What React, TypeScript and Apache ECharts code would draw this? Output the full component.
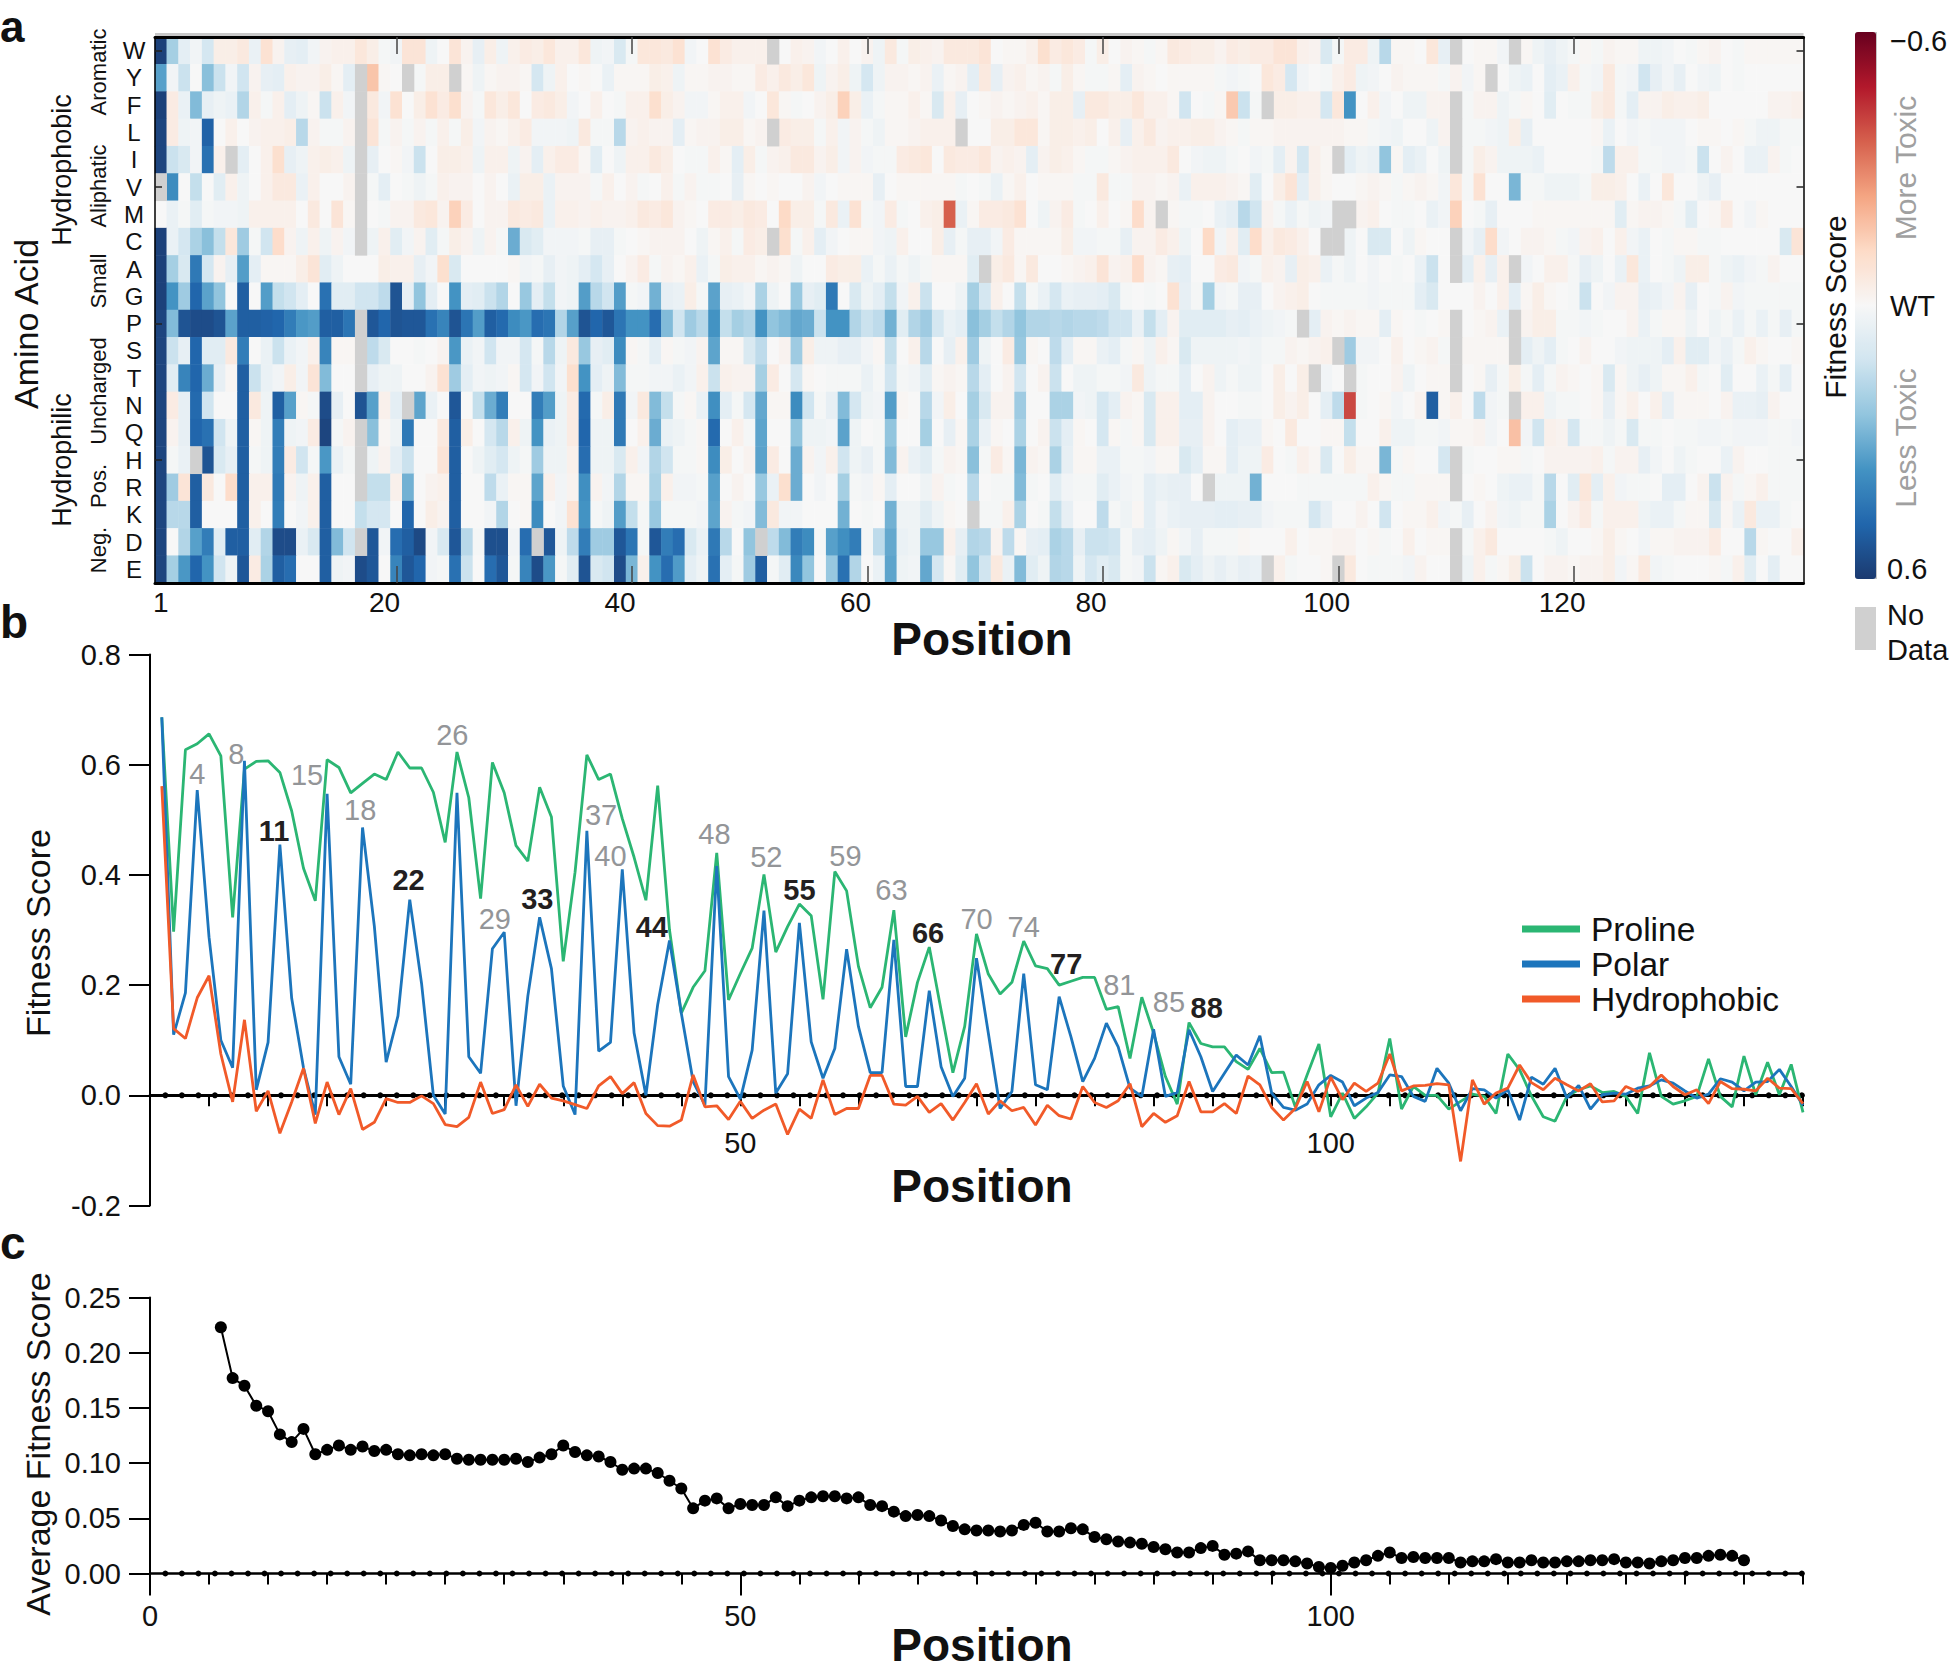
import React, { useEffect, useRef } from "react";
import * as echarts from "echarts";

const _ = null;
const FONT = "'Liberation Sans', Arial, sans-serif";

const aminoAcids = ["W","Y","F","L","I","V","M","C","A","G","P","S","T","N","Q","H","R","K","D","E"];
const heatTickLabels = [1, 20, 40, 60, 80, 100, 120];

// Fitness score, in hundredths, per position (1-140). null = no data.
const rowW = [58,17,6,2,9,-4,-4,-6,4,-9, -2,5,6,2,-2,-3,-3,-7,-4,1, 2,-8,-8,3,0,-8,-2,5,-4,3, -3,-5,-4,-7,-3,-3,-7,3,2,8, 1,-7,-7,-6,-9,2,
  0,-9,-5,-3,-3,-3,_,0,-3,-2, 2,0,-3,0,-2,3,-6,1,-4,-3, -2,-6,-6,-6,-8,0,-1,-1,-3,-10, -5,-7,-5,1,-4,0,-2,-1,1,-1, -6,-5,-4,-4,-2,-5,-4,-5,-5,-8, -8,-3,-2,8,1,-5,-5,3,14,-1,
  -1,0,-7,5,_,0,-1,-1,2,_, -1,3,5,3,1,-1,1,-2,-1,-1, 3,3,2,0,1,-1,-2,0,1,-1, -1,-1,-1,-1];
const rowY = [33,2,11,0,21,11,2,10,-2,5, 6,-3,-2,-2,-4,-1,6,_,-17,-1, 0,_,1,-4,-4,_,-1,3,-1,-2, -2,-1,9,3,-3,0,-1,0,4,-1, -1,-1,-4,-3,3,-1,
  -1,-2,-2,-1,-1,-5,-3,-6,-4,-7, 3,-2,-4,3,9,3,-2,-2,-1,-2, 4,-1,-2,6,-6,5,-2,-3,-1,-2, 1,-4,-1,1,1,-1,6,-2,-1,0, -1,-1,-1,-1,1,2,1,0,-7,-5, 9,2,0,1,-3,-5,3,2,0,-2,
  -1,-1,-1,1,-2,2,-1,_,0,3, 4,0,6,4,-3,1,2,-6,1,2, 10,5,2,5,0,2,3,0,1,0, 0,0,0,0];
const rowF = [58,-5,4,22,5,3,4,15,-3,1, -3,6,3,-1,11,-3,2,_,-6,2, -9,0,-4,-9,-5,-10,-2,1,-7,-4, -7,0,-5,-6,-4,2,0,-3,0,1, -3,-3,-10,-4,-2,2,
  2,-1,-3,-3,2,0,-7,-1,1,0, -2,-4,-14,-4,4,1,-1,-1,-3,-1, 8,-3,5,0,-1,-2,-1,-2,-3,-1, -4,-4,5,-6,-6,-4,-4,-7,-3,-3, -1,10,0,1,-1,-16,11,1,_,-4, -4,-3,-3,9,-7,30,0,-3,2,0,
  3,3,-2,-2,_,1,-2,-2,3,1, -1,0,7,0,1,1,-4,-6,1,6, -2,-2,-4,-3,-3,-4,0,0,0,0, 0,-2,-2,-3];
const rowL = [57,-5,3,2,49,0,-3,0,-2,-3, -3,-4,14,-2,1,1,-2,_,-8,1, -2,1,-2,1,-3,1,-4,2,-2,-1, -3,-5,2,2,2,3,-6,1,1,14, -2,-3,-2,-2,6,-1,
  -2,-2,-4,-4,-1,-2,_,-5,-4,-4, 1,-3,2,-2,1,3,-1,-1,-2,-3, -3,-3,_,0,0,-4,-4,-7,-7,-1, -4,-4,-3,-4,0,-3,5,-3,-6,-2, -3,-3,-4,-4,-2,-1,1,-1,-1,-2, -2,-2,-2,-2,-2,-1,-1,1,2,3,
  0,0,3,-2,_,1,1,2,3,-4, 5,0,0,0,0,0,-1,4,0,2, 1,2,2,2,0,-1,-1,0,-1,1, 3,3,1,1];
const rowI = [57,11,8,2,45,-3,_,6,0,-3, -10,5,3,-3,-4,-3,3,_,5,0, -1,2,11,0,-4,-4,-3,3,-3,-3, 3,-2,6,-3,-5,-5,-1,7,0,3, -3,-3,-6,-4,0,1,
  1,-3,-1,6,-4,1,-2,-3,-6,-6, -2,-4,2,-2,2,1,1,-5,-6,-7, 0,-6,-5,-5,-7,-2,-3,-2,6,-2, -4,-3,-1,1,1,-1,-2,-3,-3,-3, -6,0,2,3,3,1,0,2,1,6, -2,9,-3,-1,_,6,3,4,20,-1,
  6,4,0,3,_,1,-4,-2,3,3, 3,4,0,0,0,0,1,13,-3,-3, 1,1,2,2,1,11,0,-2,0,4, 4,-2,1,0];
const rowV = [_,38,0,12,0,7,-3,3,0,-3, -6,-6,4,-3,0,0,-2,_,1,6, 0,1,3,1,-3,-2,-2,0,-2,0, 4,-4,-4,4,-2,-2,-2,1,-3,0, -2,1,0,-3,1,-2,
  1,1,0,5,-1,0,-1,0,0,-2, 2,0,-1,-1,-1,5,0,-1,-1,-1, -1,-1,1,0,1,4,-1,-3,0,-1, -1,-1,1,1,-6,1,1,-2,-2,-1, -2,4,-3,-3,-3,-2,-1,7,0,-4, -8,6,-3,-1,0,0,-1,-2,-1,1,
  -1,-2,-1,2,-7,1,-9,0,0,23, 1,1,3,3,3,1,-4,-4,-3,0, 4,0,-7,0,0,3,5,0,0,0, 0,0,0,0];
const rowM = [0,4,1,7,1,2,2,3,-3,-3, -3,-3,0,-6,0,-8,-1,_,0,1, -2,-2,-6,-7,-2,-14,-5,0,-2,-2, -6,-5,-6,4,-3,-3,-2,-3,-2,-2, -3,-6,-5,-7,-2,-1,
  0,-5,-5,-4,-6,-5,0,-12,-4,-4, 1,-6,4,-9,1,2,-5,1,0,-3, -4,-36,4,-1,-5,-5,-6,-9,0,3, -2,-5,1,0,-3,0,-1,-11,-2,_, -1,1,1,0,4,6,14,10,-2,1, 4,1,3,2,_,_,-2,-3,0,1,
  1,0,4,2,-14,0,1,5,0,0, 0,-1,-1,-1,-1,-1,-1,-1,7,-1, -2,-2,-1,1,7,0,-1,-5,0,2, -1,0,0,0];
const rowC = [58,4,9,16,21,12,-7,18,1,10, -11,-2,3,-3,3,-2,2,_,3,-3, 7,2,-2,7,1,-4,-2,3,-2,1, 25,8,7,2,2,2,1,5,5,1, 0,-1,-2,-2,-2,0,
  3,-1,-3,1,-5,-4,_,-10,1,-3, 6,2,0,-1,-1,2,3,-3,0,0, -4,5,1,5,5,2,-5,-1,-1,-1, -1,-4,2,2,1,1,5,-2,-2,-5, -3,3,0,-12,2,-3,7,-11,-3,-6, -5,-3,0,_,_,3,0,8,8,0,
  3,-1,0,0,_,2,5,-11,2,0, -2,-2,-1,1,2,-2,-3,0,-3,2, 4,0,1,-1,-1,1,1,0,0,0, 0,0,8,-8];
const rowA = [58,17,8,43,9,-2,5,28,6,-1, -1,-1,-4,-8,7,3,0,0,0,-4, -3,-3,5,2,-10,8,0,0,0,0, -1,2,1,5,2,3,6,9,5,0, -2,-5,1,-2,-1,-3,
  4,1,-4,-3,-3,-1,-2,-1,3,0, 0,-5,-4,-4,4,1,4,1,3,1, -1,-1,-1,7,_,-4,-6,-1,-6,0, 0,-1,-2,-3,-8,-2,-3,-11,-2,-1, 5,6,0,0,-5,-6,2,1,-3,-2, 5,-4,-3,4,1,3,0,2,0,1,
  0,4,11,0,_,6,-3,5,-3,_, 2,0,-3,-3,1,5,3,0,4,-7, 4,0,1,3,-4,-4,1,3,4,2, 1,-2,0,0];
const rowG = [58,36,18,48,27,20,0,50,0,28, 12,10,6,0,45,7,7,10,10,13, 53,5,20,6,0,36,6,7,11,15, 0,19,6,12,2,3,28,14,10,28, 1,2,24,5,4,-4,
  1,27,5,4,2,16,3,0,19,5, 7,43,0,8,3,6,12,2,-3,11, 0,0,3,17,9,-3,0,12,1,4, 9,4,5,5,6,8,1,0,1,0, -9,5,1,17,2,1,5,5,0,-2, -3,-4,0,1,1,1,1,2,1,1,
  1,6,8,0,0,0,-2,0,-3,6, -1,-4,-1,0,1,11,0,2,-2,-2, 5,4,2,-2,5,0,1,-2,2,1, 1,1,1,1];
const rowP = [57,22,53,55,55,53,27,50,50,49, 48,42,35,28,50,50,44,_,52,48, 53,52,52,45,40,53,44,28,50,47, 38,35,46,44,15,33,53,48,52,44, 36,30,46,22,10,18,
  14,36,12,17,15,30,20,22,26,25, 11,36,30,15,11,13,24,7,15,18, 9,4,6,21,17,12,15,20,15,15, 14,15,14,14,13,10,10,4,12,6, -2,7,7,7,7,5,6,4,3,2, 1,_,6,-2,-1,-2,-1,-1,6,-1,
  0,1,0,-1,_,0,-1,-2,4,_, -2,-4,-4,1,1,2,1,0,0,-2, 4,1,-1,-1,3,0,3,1,4,1, 4,1,5,1];
const rowS = [57,11,5,48,7,7,-6,42,0,4, 11,4,2,-3,40,-1,-1,_,13,8, 0,0,1,0,-2,35,4,2,10,2, 2,9,1,14,3,-6,19,5,7,38, -1,1,6,-1,1,2,
  -2,32,-1,-1,8,13,0,-2,18,-4, 3,3,5,5,2,-1,12,0,-3,14, 0,5,-3,18,3,0,-5,19,-1,0, 13,6,-1,-1,4,6,1,-1,3,-3, -1,8,3,3,3,3,2,3,1,1, -2,-1,-2,-3,_,18,2,2,0,-3,
  0,-1,-2,1,_,-1,-1,-1,-1,_, 6,3,6,1,0,-2,0,0,2,3, 3,3,6,-3,7,7,2,4,1,-3, -1,0,0,-1];
const rowT = [57,7,40,48,25,5,-1,50,11,4, 2,-4,2,-8,22,0,0,_,5,3, 3,0,0,-2,-9,18,6,2,3,2, -1,9,2,10,2,-10,30,6,3,22, 1,1,2,2,4,2,
  -3,11,-3,-2,-2,17,-5,0,9,-1, 0,1,1,1,4,1,10,1,2,7, -1,-2,-1,14,6,0,-2,10,0,-2, 11,0,3,3,1,1,2,-6,3,1, 1,6,0,-2,3,1,3,3,0,-4, 0,-4,_,2,0,_,1,0,0,-2,
  3,0,-1,-1,_,0,-1,5,1,-4, 1,6,1,-2,-1,0,-1,8,-1,3, 5,3,-1,-1,-3,1,0,7,0,0, 4,1,6,0];
const rowN = [57,-5,5,47,10,0,0,50,-6,3, 50,33,-1,1,55,5,0,53,33,-3, 6,_,32,4,0,52,0,12,25,42, 0,0,42,28,3,-5,47,1,-4,43, 2,-6,22,12,1,-1,
  4,37,6,1,9,26,-1,-1,38,10, 1,5,22,9,3,2,28,-1,0,14, 2,-4,0,17,8,-2,-2,18,0,0, 16,16,2,3,9,6,-2,-1,8,-3, -3,6,6,-2,0,0,1,1,0,-4, -2,-4,0,6,13,-40,1,0,-1,2,
  0,-2,50,-1,-3,0,13,2,1,_, -3,-3,3,1,1,0,-1,5,-1,-3, 0,-3,5,-1,-1,-1,0,-2,4,4, 5,-2,0,0];
const rowQ = [57,-2,5,48,45,10,3,50,-1,3, 42,3,2,-5,57,1,-2,_,21,-1, 3,43,0,0,-6,50,-4,0,9,14, -3,3,30,4,3,-5,48,3,3,43, 0,-3,25,4,3,1,
  -1,47,0,-3,1,32,0,0,20,3, 3,2,27,3,0,1,20,0,0,17, 0,5,-1,16,4,-1,0,16,0,-2, 11,6,-1,0,9,-1,1,-1,8,-3, -3,5,5,-2,0,6,4,4,-1,0, -6,0,0,-1,-1,12,0,0,-3,3,
  3,1,1,2,-1,-1,-2,2,0,-18, 2,10,-3,-2,9,1,1,3,1,8, 1,1,0,1,1,2,2,1,2,2, 2,1,1,2];
const rowH = [57,1,4,_,53,8,5,50,1,3, 42,-5,10,1,35,4,1,_,3,-2, 6,11,0,0,-8,50,0,3,7,9, 3,1,18,3,3,-3,46,3,3,8, -3,2,15,10,1,1,
  -1,38,-4,0,-2,27,-5,0,25,-2, 2,-3,10,3,5,1,22,-2,4,7, 1,-2,-1,21,1,-5,-1,23,-2,-1, 16,5,-1,-1,4,4,1,1,2,-1, -1,8,6,-1,-1,6,3,3,-5,0, 1,-3,-1,8,0,-4,-1,-1,23,1,
  -1,0,0,9,_,1,0,0,-1,-1, 1,0,-2,-2,-2,-2,-3,1,-2,-2, 5,2,0,3,1,0,0,4,-2,0, 0,1,1,1];
const rowR = [57,18,-8,50,-6,0,-11,50,-3,-3, 43,-2,3,-3,50,0,0,_,12,12, -3,24,0,-2,-3,50,0,0,13,4, -1,-1,32,-3,2,-2,37,-2,2,15, -1,-1,16,-3,2,2,
  1,33,0,-2,0,19,4,-10,25,0, 2,0,17,1,2,-1,6,0,0,3, -2,1,0,14,0,1,1,22,1,0, 7,2,1,1,7,4,2,1,6,4, 5,5,0,_,3,3,3,24,0,0, 0,1,1,1,1,1,1,-3,-1,1,
  1,-1,-1,-1,_,0,-1,0,3,4, 4,1,14,0,7,-7,6,-3,2,1, 1,0,6,6,0,-2,11,-2,1,-1, -3,1,1,1];
const rowK = [57,14,14,50,0,0,0,50,-3,0, 42,0,2,-3,50,0,0,12,9,9, 0,48,0,-4,-2,50,0,0,2,15, 0,-1,38,0,2,-9,30,1,3,28, 12,1,19,1,1,1,
  2,32,-2,1,2,22,-6,2,2,0, 0,0,24,0,1,0,24,3,3,7, 3,-1,0,_,1,1,-3,16,0,1, 12,5,0,0,13,1,3,-1,6,2, 4,5,5,5,6,6,5,5,2,1, 1,1,9,5,0,0,-2,0,10,0,
  -1,-1,-3,2,1,5,0,-2,2,3, 1,1,16,0,-2,-5,1,-3,-3,-3, 3,4,4,1,-1,-1,8,-1,4,-6, 4,4,1,0];
const rowD = [57,0,15,33,42,7,50,50,7,15, 55,55,4,8,50,22,10,_,52,2, 46,50,56,2,8,52,14,1,54,54, 2,46,_,52,3,13,42,18,18,52, 44,1,52,42,46,8,
  4,43,14,0,20,_,13,22,42,38, 1,33,37,42,1,13,31,4,3,19, 19,-3,5,15,14,-2,13,-1,5,6, 16,14,5,11,11,10,1,5,6,3, -1,2,5,1,1,1,-1,0,0,0, -3,0,-1,-1,-2,-2,0,-1,1,0,
  -3,0,-1,-1,_,1,-3,-6,0,0, 0,0,1,3,0,0,-1,-4,-1,0, 2,-1,-1,-2,-2,-2,-5,0,0,14, -1,0,0,-3];
const rowE = [57,17,35,48,36,10,3,52,-5,16, 50,46,0,0,50,3,2,55,52,0, 40,52,48,2,1,45,11,0,46,52, 1,40,55,35,1,7,53,8,10,55, 23,-3,30,46,34,6,
  3,45,6,1,18,50,1,7,39,20, 0,19,45,15,0,4,32,3,2,26, 9,-1,7,20,10,-6,4,22,7,3, 15,14,3,9,7,8,1,2,11,-1, -3,8,6,3,5,3,5,4,_,-3, 1,0,0,-1,_,-6,0,1,1,1,
  2,-2,0,0,_,3,-3,1,-1,-4, 11,0,-2,-2,-1,-2,-2,-4,2,-1, -6,2,1,0,0,0,-1,1,-3,7, 0,6,0,0];
const heatRows = [rowW,rowY,rowF,rowL,rowI,rowV,rowM,rowC,rowA,rowG,rowP,rowS,rowT,rowN,rowQ,rowH,rowR,rowK,rowD,rowE];

// Panel b: scores for positions 1-140
const prolineScores = [.686,.297,.627,.638,.656,.616,.323,.592,.606,.607,
  .586,.516,.412,.353,.609,.595,.549,.566,.583,.573,
  .623,.594,.594,.55,.459,.623,.54,.357,.604,.549,
  .453,.425,.559,.505,.243,.405,.618,.573,.583,.502,
  .432,.354,.562,.30,.149,.196,.226,.44,.173,.221,
  .267,.401,.26,.306,.347,.326,.174,.406,.371,.234,
  .159,.196,.336,.106,.205,.269,.155,.041,.125,.293,
  .22,.184,.205,.28,.235,.23,.2,.207,.214,.214,
  .156,.161,.067,.178,.113,.034,-.016,.132,.094,.088,
  .088,.061,.047,.085,.041,.042,-.021,.037,.093,-.039,
  .004,-.042,-.021,.004,.103,-.025,.016,0,0,-.025,
  -.011,.002,-.002,-.033,.075,.046,-.001,-.039,-.047,-.002,
  .01,.017,.005,.007,-.002,-.033,.077,-.002,-.016,-.01,
  -.002,.066,-.002,-.021,.071,.001,.06,.001,.056,-.031];
const polarScores = [.686,.11,.186,.554,.287,.10,.05,.607,.01,.096,
  .455,.176,.05,-.035,.547,.07,.02,.486,.307,.06,
  .144,.355,.203,0,-.034,.549,.07,.04,.266,.296,
  -.019,.18,.323,.23,.017,-.035,.48,.08,.096,.41,
  .113,0,.165,.281,.149,.025,-.018,.416,.034,-.007,
  .082,.335,.004,.039,.313,.097,.031,.085,.265,.125,
  .041,.041,.282,.016,.016,.19,.052,-.002,.031,.249,
  .113,-.024,.007,.221,.019,.01,.179,.106,.025,.067,
  .131,.088,.013,-.002,.12,-.002,.005,.119,.07,.007,
  .04,.073,.055,.108,.004,-.022,-.027,-.016,.019,.036,
  .024,-.019,-.005,.005,.037,.034,-.002,-.011,.049,.022,
  -.028,.012,.01,-.005,.01,-.045,.033,.02,.049,-.005,
  .018,-.025,.001,.004,.002,.013,.017,.028,.022,.008,
  -.005,.002,.03,.024,.008,.024,.025,.047,.016,-.018];
const hydrophobicScores = [.561,.121,.103,.177,.217,.075,-.012,.137,-.029,.008,
  -.069,-.012,.049,-.051,.024,-.035,.012,-.062,-.049,-.006,
  -.013,-.013,-.001,-.015,-.053,-.057,-.04,.024,-.033,-.026,
  .019,-.02,.02,-.005,-.01,-.017,-.024,.017,.034,.003,
  .023,-.033,-.055,-.056,-.045,.037,-.021,-.019,-.044,-.011,
  -.042,-.027,-.016,-.071,-.025,-.042,.028,-.035,-.024,-.024,
  .036,.036,-.016,-.018,-.002,-.031,-.015,-.045,-.013,.021,
  -.034,-.01,-.028,-.022,-.054,-.018,-.037,-.043,.016,-.013,
  -.022,-.01,.021,-.057,-.033,-.049,-.037,.025,-.03,-.03,
  -.015,-.033,.035,.019,-.022,-.045,-.024,.025,-.03,.033,
  -.008,.022,.007,.022,.075,.008,.017,.018,.021,.019,
  -.12,.028,-.016,.004,.013,.055,.023,.01,.031,.019,
  .008,.021,-.012,-.01,.016,.007,.016,.037,.016,.001,
  .01,-.015,.025,.012,.011,.008,.031,.013,.012,-.015];

// Peak annotations: [label, position on the axis, score on the axis]
const greyPeaks = [["4",4,.584],["8",7.3,.62],["15",13.3,.582],["18",17.8,.517],["26",25.6,.654],["29",29.2,.32],["37",38.2,.508],["40",39,.435],["48",47.8,.474],["52",52.2,.433],["59",58.9,.435],["63",62.8,.372],["70",70,.32],["74",74,.305],["81",82.1,.2],["85",86.3,.169]];
const boldPeaks = [["11",10.5,.48],["22",21.9,.39],["33",32.8,.356],["44",42.5,.305],["55",55,.372],["66",65.9,.295],["77",77.6,.239],["88",89.5,.158]];

// Row of small dots along the zero line of panels b and c
const zeroDots = [1.3,2.7,4.1,5.5,6.9,8.3,9.7,11.1,12.5,13.9,15.3,16.7,18.1,19.5,20.9,22.3,23.7,25.1,26.5,27.9,29.3,30.7,32.1,33.5,34.9,36.3,37.7,39.1,40.5,41.9,43.3,44.7,46.1,47.5,48.9,50.3,51.7,53.1,54.5,55.9,57.3,58.7,60.1,61.5,62.9,64.3,65.7,67.1,68.5,69.9,71.3,72.7,74.1,75.5,76.9,78.3,79.7,81.1,82.5,83.9,85.3,86.7,88.1,89.5,90.9,92.3,93.7,95.1,96.5,97.9,99.3,100.7,102.1,103.5,104.9,106.3,107.7,109.1,110.5,111.9,113.3,114.7,116.1,117.5,118.9,120.3,121.7,123.1,124.5,125.9,127.3,128.7,130.1,131.5,132.9,134.3,135.7,137.1,138.5,139.9];

// Panel c: average fitness, positions 6-135
const averageFirstPosition = 6;
const averageScores = [.223,.177,.170,.152,.147,.126,.119,.131,.108,.112,.116,.112,.115,.111,.112,.108,.107,.108,.107,.108,
  .104,.103,.103,.103,.103,.104,.101,.105,.108,.116,.110,.107,.106,.101,.094,.095,.095,.091,.084,.077,
  .059,.066,.068,.059,.063,.062,.062,.069,.061,.066,.069,.070,.070,.068,.069,.062,.061,.056,.052,.053,
  .052,.048,.043,.040,.039,.039,.038,.039,.044,.046,.038,.038,.041,.040,.033,.031,.029,.028,.027,.024,
  .022,.019,.019,.023,.025,.017,.018,.020,.012,.012,.012,.011,.009,.006,.005,.007,.010,.012,.016,.019,
  .014,.015,.014,.014,.014,.010,.011,.011,.013,.010,.010,.012,.010,.010,.011,.011,.012,.012,.013,.010,
  .010,.009,.011,.012,.014,.014,.016,.017,.016,.012];

const colormap = ["#67001f","#b2182b","#d6604d","#f4a582","#fddbc7","#f7f7f7","#d1e5f0","#92c5de","#4393c3","#2166ac","#1b3a70"];
const GREEN = "#2bb673", BLUE = "#1c75bc", ORANGE = "#f15a29";

// My readings of the pale blues came out a little low against the colour bar.
const readingToScore = (v: number) => (v >= 8 && v <= 30 ? (v * 1.2) / 100 : v / 100);

function buildOption() {
  const positions = Array.from({ length: 140 }, (_v, i) => String(i + 1));
  const heat: number[][] = [];
  const noData: number[][] = [];
  heatRows.forEach((row, r) => row.forEach((v, c) => {
    if (v === null) noData.push([c, r, 1]);
    else heat.push([c, r, readingToScore(v)]);
  }));
  const pairs = (a: number[]) => a.map((v, i) => [i + 1, v]);
  const peakData = [
    ...greyPeaks.map((p) => ({ name: p[0], value: [p[1], p[2]], label: { color: "#939598", fontWeight: "normal" } })),
    ...boldPeaks.map((p) => ({ name: p[0], value: [p[1], p[2]], label: { color: "#231f20", fontWeight: "bold" } })),
  ];
  const dots = zeroDots.map((x) => [x, 0]);

  const t = (text: string, x: number, y: number, fontSize: number, extra: any = {}) => ({
    type: "text", x, y, silent: true, rotation: extra.rotation || 0,
    style: { text, fontSize, fontFamily: FONT, fill: extra.fill || "#111", fontWeight: extra.fontWeight || "normal",
      textAlign: extra.align || "center", textVerticalAlign: "middle" },
  });
  const rot = { rotation: Math.PI / 2 };
  const grey = { rotation: Math.PI / 2, fill: "#a0a0a0" };
  const graphic = [
    t("a", 0, 26, 44, { fontWeight: "bold", align: "left" }),
    t("b", 0, 622, 46, { fontWeight: "bold", align: "left" }),
    t("c", 0, 1243, 46, { fontWeight: "bold", align: "left" }),
    t("Amino Acid", 26, 324, 34, rot),
    t("Hydrophobic", 62, 170, 27, rot),
    t("Hydrophilic", 62, 460, 27, rot),
    t("Aromatic", 98, 72, 22, rot),
    t("Aliphatic", 98, 186, 22, rot),
    t("Small", 98, 281, 22, rot),
    t("Uncharged", 98, 391, 22, rot),
    t("Pos.", 98, 486, 22, rot),
    t("Neg.", 98, 550, 22, rot),
    t("Position", 982, 639, 46, { fontWeight: "bold" }),
    t("Position", 982, 1186, 46, { fontWeight: "bold" }),
    t("Position", 982, 1645, 46, { fontWeight: "bold" }),
    t("Fitness Score", 38, 933, 34, rot),
    t("Average Fitness Score", 38, 1444, 34, rot),
    t("Fitness Score", 1835, 307, 30, rot),
    t("More Toxic", 1905, 168, 30, grey),
    t("Less Toxic", 1905, 438, 30, grey),
    t("\u22120.6", 1890, 41, 29, { align: "left" }),
    t("WT", 1890, 306, 29, { align: "left" }),
    t("0.6", 1887, 569, 29, { align: "left" }),
    t("No", 1887, 615, 29, { align: "left" }),
    t("Data", 1887, 650, 29, { align: "left" }),
    { type: "rect", silent: true, shape: { x: 1855, y: 607, width: 21, height: 43 }, style: { fill: "#d0d0d0" } },
    { type: "line", silent: true, shape: { x1: 1876, y1: 32, x2: 1876, y2: 579 }, style: { stroke: "#8a8a8a", lineWidth: 1 } },
    { type: "rect", silent: true, shape: { x: 155, y: 33, width: 1648.5, height: 3 }, style: { fill: "#c8c8c8" } },
  ];

  const axisFont = { fontFamily: FONT, color: "#111" };
  const black = (width: number) => ({ show: true, onZero: false, lineStyle: { color: "#000", width } });

  return {
    animation: false,
    backgroundColor: "#fff",
    textStyle: { fontFamily: FONT },
    graphic,
    grid: [
      { left: 155, top: 37, width: 1648.5, height: 546, containLabel: false },
      { left: 150, top: 654.5, width: 1653, height: 551, containLabel: false },
      { left: 150, top: 1297.5, width: 1653, height: 276, containLabel: false },
    ],
    visualMap: [
      { type: "continuous", seriesIndex: 0, min: -0.6, max: 0.6, inverse: true, calculable: false, realtime: false, hoverLink: false,
        left: 1855, top: 32, padding: 0, itemWidth: 21, itemHeight: 547, text: ["", ""], textGap: 0, inRange: { color: colormap } },
      { type: "continuous", seriesIndex: 1, show: false, min: 0, max: 1, inRange: { color: ["#d0d0d0", "#d0d0d0"] } },
    ],
    legend: {
      left: 1517, top: 907, orient: "vertical", icon: "rect", itemWidth: 58, itemHeight: 7, itemGap: 1,
      data: ["Proline", "Polar", "Hydrophobic"], selectedMode: false,
      textStyle: { fontFamily: FONT, fontSize: 33.5, color: "#111", padding: [0, 0, 0, 6] },
    },
    xAxis: [
      { type: "category", gridIndex: 0, position: "bottom", z: 10, data: positions, axisLine: black(3),
        axisTick: { show: true, inside: true, length: 17, alignWithLabel: true, lineStyle: { color: "#444", width: 1.5 },
          interval: (i: number) => i > 0 && i % 20 === 0 },
        axisLabel: { ...axisFont, fontSize: 28, margin: 5, hideOverlap: false,
          interval: (i: number) => heatTickLabels.includes(i + 1) } },
      { type: "category", gridIndex: 0, position: "top", z: 10, data: positions, axisLine: black(3),
        axisTick: { show: true, inside: true, length: 17, alignWithLabel: true, lineStyle: { color: "#444", width: 1.5 },
          interval: (i: number) => i > 0 && i % 20 === 0 },
        axisLabel: { show: false } },
      { type: "value", gridIndex: 1, min: 0, max: 140, interval: 5, splitLine: { show: false },
        axisLine: { show: true, onZero: true, lineStyle: { color: "#000", width: 3 } },
        axisTick: { show: true, length: 11, lineStyle: { color: "#000", width: 2 } },
        axisLabel: { ...axisFont, fontSize: 29, margin: -77, customValues: [50, 100] } },
      { type: "value", gridIndex: 2, min: 0, max: 140, interval: 5, splitLine: { show: false },
        axisLine: { show: true, lineStyle: { color: "#000", width: 2.5 } },
        axisTick: { show: true, length: 11, lineStyle: { color: "#000", width: 2 } },
        axisLabel: { show: false } },
      { type: "value", gridIndex: 2, position: "bottom", min: 0, max: 140, interval: 50, splitLine: { show: false },
        axisLine: { show: false },
        axisTick: { show: true, length: 22, customValues: [0, 50, 100], lineStyle: { color: "#000", width: 2 } },
        axisLabel: { ...axisFont, fontSize: 29, margin: 28, customValues: [0, 50, 100] } },
    ],
    yAxis: [
      { type: "category", gridIndex: 0, position: "left", z: 10, inverse: true, data: aminoAcids, axisLine: black(1.5),
        axisTick: { show: true, inside: true, length: 7, alignWithLabel: true, lineStyle: { color: "#222", width: 1.5 },
          interval: (i: number) => i % 5 === 0 },
        axisLabel: { ...axisFont, fontSize: 24, margin: 21, align: "center", interval: 0 } },
      { type: "category", gridIndex: 0, position: "right", z: 10, inverse: true, data: aminoAcids, axisLine: black(1.5),
        axisTick: { show: true, inside: true, length: 7, alignWithLabel: true, lineStyle: { color: "#222", width: 1.5 },
          interval: (i: number) => i % 5 === 0 },
        axisLabel: { show: false } },
      { type: "value", gridIndex: 1, min: -0.2, max: 0.8, interval: 0.2, splitLine: { show: false },
        axisLine: { show: true, onZero: false, lineStyle: { color: "#000", width: 2 } },
        axisTick: { show: true, length: 21, lineStyle: { color: "#000", width: 2 } },
        axisLabel: { ...axisFont, fontSize: 29, margin: 29, formatter: (v: number) => v.toFixed(1) } },
      { type: "value", gridIndex: 2, min: 0, max: 0.25, interval: 0.05, splitLine: { show: false },
        axisLine: { show: true, onZero: false, lineStyle: { color: "#000", width: 2 } },
        axisTick: { show: true, length: 21, lineStyle: { color: "#000", width: 2 } },
        axisLabel: { ...axisFont, fontSize: 29, margin: 29, formatter: (v: number) => v.toFixed(2) } },
    ],
    series: [
      { name: "Score", type: "heatmap", xAxisIndex: 0, yAxisIndex: 0, data: heat, silent: true, progressive: 0, emphasis: { disabled: true } },
      { name: "No Data", type: "heatmap", xAxisIndex: 0, yAxisIndex: 0, data: noData, silent: true, progressive: 0, emphasis: { disabled: true } },
      { name: "zero b", type: "scatter", xAxisIndex: 2, yAxisIndex: 2, data: dots, symbolSize: 6, silent: true, itemStyle: { color: "#000", opacity: 1 }, z: 1 },
      { name: "Proline", type: "line", xAxisIndex: 2, yAxisIndex: 2, data: pairs(prolineScores), showSymbol: false, silent: true,
        itemStyle: { color: GREEN }, lineStyle: { color: GREEN, width: 2.8 } },
      { name: "Polar", type: "line", xAxisIndex: 2, yAxisIndex: 2, data: pairs(polarScores), showSymbol: false, silent: true,
        itemStyle: { color: BLUE }, lineStyle: { color: BLUE, width: 2.8 } },
      { name: "Hydrophobic", type: "line", xAxisIndex: 2, yAxisIndex: 2, data: pairs(hydrophobicScores), showSymbol: false, silent: true,
        itemStyle: { color: ORANGE }, lineStyle: { color: ORANGE, width: 2.8 } },
      { name: "Peak labels", type: "scatter", xAxisIndex: 2, yAxisIndex: 2, data: peakData, symbolSize: 1, silent: true, z: 5,
        itemStyle: { color: "transparent", opacity: 1 },
        label: { show: true, position: "inside", fontFamily: FONT, fontSize: 29, formatter: "{b}" } },
      { name: "zero c", type: "scatter", xAxisIndex: 3, yAxisIndex: 3, data: dots, symbolSize: 6, silent: true, itemStyle: { color: "#000", opacity: 1 }, z: 1 },
      { name: "Average", type: "line", xAxisIndex: 3, yAxisIndex: 3, data: averageScores.map((v, i) => [averageFirstPosition + i, v]),
        symbol: "circle", symbolSize: 12, showSymbol: true, silent: true,
        itemStyle: { color: "#000" }, lineStyle: { color: "#000", width: 2 } },
    ],
  };
}

export default function App() {
  const ref = useRef<HTMLDivElement>(null);
  useEffect(() => {
    const chart = echarts.init(ref.current!, undefined, { renderer: "svg" });
    chart.setOption(buildOption() as any);
    return () => chart.dispose();
  }, []);
  return <div ref={ref} style={{ position: "absolute", left: 0, top: 0, width: 1950, height: 1673 }} />;
}
